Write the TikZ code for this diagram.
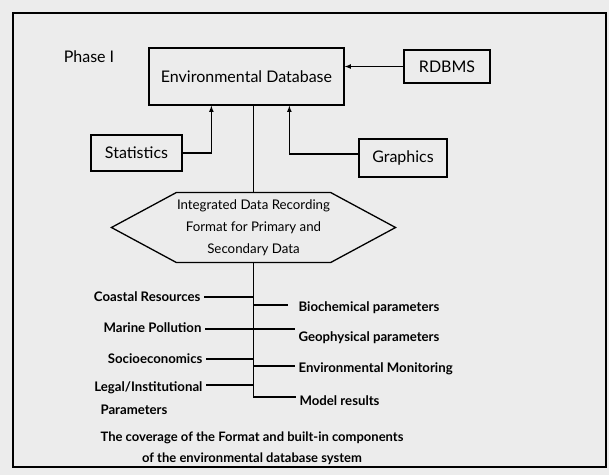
\documentclass[tikz,border=0pt]{standalone}
\usepackage{fontspec}
\setmainfont{Lato}
\usetikzlibrary{positioning}
\definecolor{paperi}{RGB}{236,236,236}

\begin{document}
\begin{tikzpicture} [x=1pt, y=-1pt, >=latex, line width=1.1pt,
                    laatikko/.style={draw,line width=1.3pt,inner sep=0pt,font=\fontsize{16}{19}\selectfont},
                    luku/.style={inner xsep=3pt,inner ysep=0pt,font=\bfseries\fontsize{13.2}{15}\selectfont}]

\useasboundingbox (0,0) rectangle (609,475);
\fill[paperi] (0,0) rectangle (609,475);
\draw[line width=1.8pt] (13,13) rectangle (606,467);

\node[font=\fontsize{16}{19}\selectfont] (phase) at (89,57) {Phase I};

\node[laatikko, minimum width=195pt, minimum height=57pt] (edb) at (246.5,76.5) {Environmental Database};
\node[laatikko, minimum width=86pt, minimum height=33pt] (rdbms) at (447,66.5) {RDBMS};
\node[laatikko, minimum width=91pt, minimum height=36pt] (stat) at (136.5,153) {Statistics};
\node[laatikko, minimum width=88pt, minimum height=38pt] (graph) at (403,158) {Graphics};

\node[align=center, inner sep=0pt, minimum width=137pt, minimum height=69pt,
      font=\fontsize{13.3}{22}\selectfont] (fmt) at (253.5,227.5)
      {Integrated Data Recording\\Format for Primary and\\Secondary Data};
\draw[line width=1.3pt] (fmt.north west) -- (fmt.north east) -- ([xshift=65pt]fmt.east)
      -- (fmt.south east) -- (fmt.south west) -- ([xshift=-65pt]fmt.west) -- cycle;

% arrows into the database
\draw[->] (rdbms.west) -- (rdbms.west -| edb.east);
\draw[->] (stat.east) -| ([xshift=63pt]edb.south west);
\draw[->] ([yshift=4pt]graph.west) -| ([xshift=141pt]edb.south west);
\draw ([xshift=7pt]edb.south) -- (fmt.north);

% coverage of the format
\node[luku, anchor=east] (coast) at (204,297) {Coastal Resources};
\node[luku, anchor=east] (marine) at (205,328) {Marine Pollution};
\node[luku, anchor=east] (socio) at (206,359) {Socioeconomics};
\node[luku, anchor=east] (legal) at (206,388) {Legal/Institutional};
\node[luku, anchor=west] (param) at (97,410) {Parameters};

\node[luku, anchor=west] (bio) at (295,308) {Biochemical parameters};
\node[luku, anchor=west] (geo) at (295,338) {Geophysical parameters};
\node[luku, anchor=west] (mon) at (295,369) {Environmental Monitoring};
\node[luku, anchor=west] (model) at (296,401) {Model results};

\draw (fmt.south) |- ([yshift=4pt]model.west);
\draw (coast.east) -- (coast.east -| fmt.south);
\draw ([yshift=-1pt]marine.east) -- ([yshift=9pt]geo.west);
\draw (socio.east) -- (socio.east -| fmt.south);
\draw ([yshift=3pt]legal.east) -- ([yshift=3pt]legal.east -| fmt.south);
\draw ([yshift=3pt]bio.west -| fmt.south) -- ([xshift=-7pt,yshift=3pt]bio.west);
\draw ([yshift=3pt]mon.west -| fmt.south) -- ([yshift=3pt]mon.west);

\node[align=center, font=\bfseries\fontsize{13}{21}\selectfont] (caption) at (252,448.5)
      {The coverage of the Format and built-in components\\of the environmental database system};
\end{tikzpicture}
\end{document}
